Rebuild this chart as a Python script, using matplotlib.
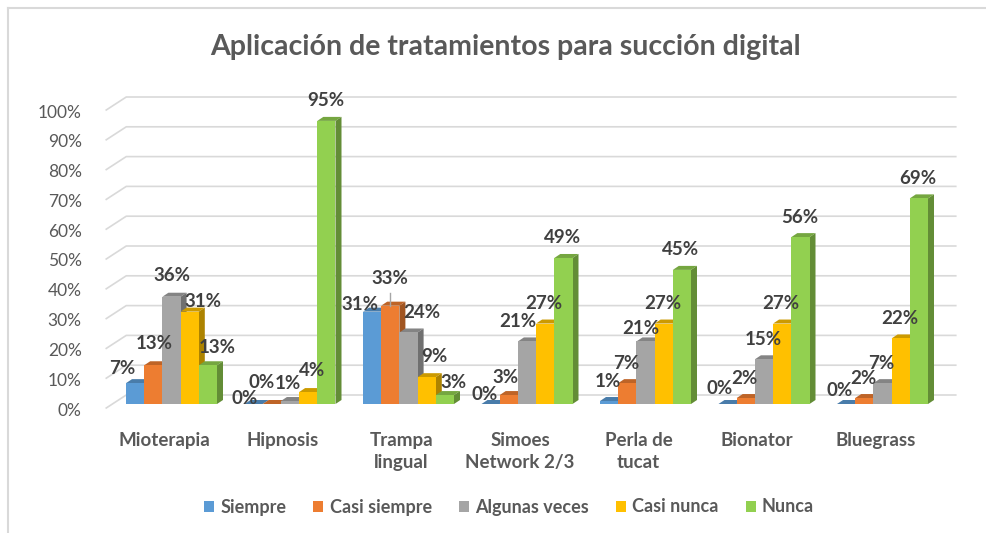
import matplotlib
matplotlib.use("Agg")
import matplotlib.pyplot as plt
import matplotlib.transforms as mtransforms
from matplotlib.patches import Polygon, Patch
from matplotlib.lines import Line2D
import numpy as np

plt.rcParams["font.family"] = ["Lato", "DejaVu Sans"]

# Data
categories = ["Mioterapia", "Hipnosis", "Trampa\nlingual", "Simoes\nNetwork 2/3",
              "Perla de\ntucat", "Bionator", "Bluegrass"]
series_names = ["Siempre", "Casi siempre", "Algunas veces", "Casi nunca", "Nunca"]
siempre = [7, 0, 31, 0, 1, 0, 0]
casi_siempre = [13, 0, 33, 3, 7, 2, 2]
algunas_veces = [36, 1, 24, 21, 21, 15, 7]
casi_nunca = [31, 4, 9, 27, 27, 27, 22]
nunca = [13, 95, 3, 49, 45, 56, 69]
values = [siempre, casi_siempre, algunas_veces, casi_nunca, nunca]
y_ticks = list(range(0, 101, 10))

colors = ["#5B9BD5", "#ED7D31", "#A5A5A5", "#FFC000", "#92D050"]
title = "Aplicación de tratamientos para succión digital"


def shade(hex_color, f):
    rgb = np.array(matplotlib.colors.to_rgb(hex_color))
    return tuple(rgb * f)


W, H = 986, 533
fig = plt.figure(figsize=(W / 100, H / 100), dpi=100)

# axes frame = front plane of the bars
ax_left, ax_right = 112.25, 941.75
ax_bottom, ax_top = 404, 106
ax = fig.add_axes([ax_left / W, (H - ax_bottom) / H,
                   (ax_right - ax_left) / W, (ax_bottom - ax_top) / H])
ax.set_xlim(-0.5, 6.5)
ax.set_ylim(0, 100)
ax.patch.set_visible(False)
for s in ax.spines.values():
    s.set_visible(False)

# pixel -> data conversion for the fake depth
px_x = 7.0 / (ax_right - ax_left)
px_y = 100.0 / (ax_bottom - ax_top)
bar_dx, bar_dy = 6 * px_x, 4 * px_y          # bar depth
wall_dx, wall_dy = 14 * px_x, 9 * px_y       # back wall
front_dx, front_dy = -6 * px_x, -4 * px_y    # front edge of side wall

# gridlines: slanted on the side wall, flat on the back wall
for t in y_ticks:
    ax.plot([-0.5 + front_dx, -0.5 + wall_dx, 6.5 + wall_dx],
            [t + front_dy, t + wall_dy, t + wall_dy],
            color="#D9D9D9", lw=1.2, zorder=1, clip_on=False)

n = len(series_names)
bar_w = 18.2 * px_x
x = np.arange(len(categories))

for j, (name, vals) in enumerate(zip(series_names, values)):
    xs = x + (j - (n - 1) / 2) * bar_w
    ax.bar(xs, vals, width=bar_w, color=colors[j], zorder=3 + 2 * j,
           linewidth=0, clip_on=False)
    for xc, v in zip(xs, vals):
        x0, x1 = xc - bar_w / 2, xc + bar_w / 2
        top = Polygon([(x0, v), (x1, v), (x1 + bar_dx, v + bar_dy), (x0 + bar_dx, v + bar_dy)],
                      closed=True, facecolor=shade(colors[j], 0.8), edgecolor="none",
                      zorder=2 + 2 * j, clip_on=False)
        side = Polygon([(x1, 0), (x1 + bar_dx, bar_dy), (x1 + bar_dx, v + bar_dy), (x1, v)],
                       closed=True, facecolor=shade(colors[j], 0.68), edgecolor="none",
                       zorder=2 + 2 * j, clip_on=False)
        ax.add_patch(top)
        ax.add_patch(side)

# value labels (offsets in pixels above the bar top)
label_default = (-1, 20)
label_nudge = {
    (0, 0): (-13, 15), (0, 1): (1, 22), (0, 2): (0, 21), (0, 3): (13, 10), (0, 4): (9, 18),
    (1, 0): (-9, 6), (1, 1): (-10, 21), (1, 2): (-2, 18), (1, 3): (4, 22),
    (2, 0): (-12, 7), (2, 1): (0, 27), (2, 2): (13, 20), (2, 3): (8, 21), (2, 4): (9, 13),
    (3, 0): (-6, 9), (3, 1): (-3, 18), (3, 2): (-9, 20),
    (4, 2): (-5, 13),
    (5, 0): (-8, 15),
    (6, 0): (-6, 14),
}
for j, vals in enumerate(values):
    xs = x + (j - (n - 1) / 2) * bar_w
    for i, (xc, v) in enumerate(zip(xs, vals)):
        dx, dy = label_nudge.get((i, j), label_default)
        ax.annotate(f"{v}%", xy=(xc, v), xytext=(dx, dy), textcoords="offset pixels",
                    ha="center", va="center", fontsize=13.5, fontweight="bold",
                    color="#404040", zorder=20, annotation_clip=False)

# leader line for the Trampa lingual / Casi siempre label
lx = x[2] + (1 - (n - 1) / 2) * bar_w
ax.plot([lx, lx], [casi_siempre[2], casi_siempre[2] + 13 * px_y],
        color="#A6A6A6", lw=1, zorder=19, clip_on=False)

# axis ticks
ax.set_yticks(y_ticks)
ax.set_yticklabels([f"{t}%" for t in y_ticks], fontsize=12.5, color="#595959")
ax.set_xticks(x)
ax.set_xticklabels(categories, fontsize=13.5, fontweight="bold", color="#595959",
                   linespacing=1.35, va="top")
ax.tick_params(axis="both", length=0)
ax.tick_params(axis="y", pad=22)
ax.tick_params(axis="x", pad=20)
for lab in ax.get_yticklabels():
    lab.set_transform(lab.get_transform() + mtransforms.ScaledTranslation(0, -5 / 100, fig.dpi_scale_trans))
for lab in ax.get_xticklabels():
    lab.set_transform(lab.get_transform() + mtransforms.ScaledTranslation(-7 / 100, 0, fig.dpi_scale_trans))

fig.text(505 / W, 1 - 47 / H, title, ha="center", va="center", fontsize=20.5,
         fontweight="bold", color="#595959")

handles = [Patch(facecolor=c, edgecolor="none") for c in colors]
leg = fig.legend(handles, series_names, loc="center", bbox_to_anchor=(509 / W, 1 - 507 / H),
                 ncol=5, frameon=False, handlelength=0.55, handleheight=0.55,
                 handletextpad=0.35, columnspacing=1.5,
                 prop={"size": 13, "weight": "bold"})
for t in leg.get_texts():
    t.set_color("#595959")

# chart area border (left and top edges)
fig.add_artist(Line2D([7.5 / W, 7.5 / W], [0, 1 - 8 / H], color="#D9D9D9", lw=1.5))
fig.add_artist(Line2D([7.5 / W, 1], [1 - 8 / H, 1 - 8 / H], color="#D9D9D9", lw=1.5))

fig.savefig("out.png", dpi=100, facecolor="white")
